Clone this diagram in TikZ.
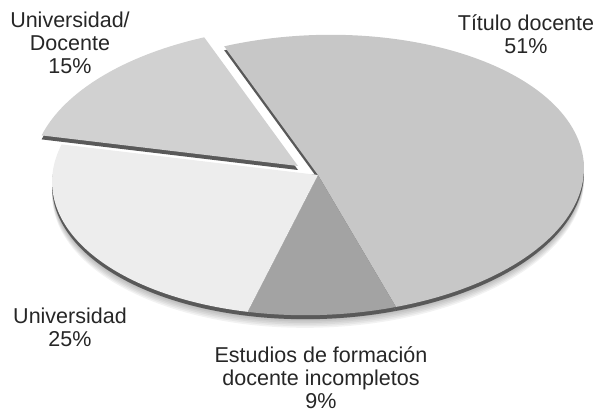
\documentclass[tikz,border=0pt]{standalone}
\usepackage{fontspec}
\setmainfont{Liberation Sans}
\begin{document}
\begin{tikzpicture}[x=1pt, y=1pt,
    pie/.style={shift={(318,237)}, rotate=2, xscale=266, yscale=140},
    lbl/.style={font=\fontsize{21.5}{23}\selectfont, align=center, text=black!85},
    rim/.style={fill=black!65},
  ]
    \useasboundingbox (0,0) rectangle (599,412);

    % soft shadow under the pie
    \begin{scope}
      \clip (0,0) rectangle (599,237);
      \foreach \k in {1,...,6}
        \fill[black, opacity=0.05, yshift=-3-\k*1.6] [pie] (0,0) circle (1);
    \end{scope}

    % thickness of the pie
    \begin{scope}[yshift=-4, pie]
      \fill[rim] (0,0) -- (286:1) arc (286:469.6:1) -- cycle;
      \fill[rim] (0,0) -- (253.6:1) arc (253.6:286:1) -- cycle;
      \fill[rim] (0,0) -- (163.6:1) arc (163.6:253.6:1) -- cycle;
    \end{scope}
    \begin{scope}[shift={(-20,9)}, yshift=-4, pie]
      \fill[rim] (0,0) -- (109.6:1) arc (109.6:163.6:1) -- cycle;
    \end{scope}

    % top of the slices
    \begin{scope}[pie]
      \fill[black!22] (0,0) -- (286:1) arc (286:469.6:1) -- cycle;
      \fill[black!36] (0,0) -- (253.6:1) arc (253.6:286:1) -- cycle;
      \fill[black!7] (0,0) -- (163.6:1) arc (163.6:253.6:1) -- cycle;
    \end{scope}
    \begin{scope}[shift={(-20,9)}, pie]
      \fill[black!18] (0,0) -- (109.6:1) arc (109.6:163.6:1) -- cycle;
    \end{scope}

    % labels
    \node[lbl] (univdoc) at (70,369) {Universidad/\\Docente\\15\%};
    \node[lbl] (titulo) at (526,378) {Título docente\\51\%};
    \node[lbl] (univ) at (70,85) {Universidad\\25\%};
    \node[lbl] (estudios) at (321,34) {Estudios de formación\\docente incompletos\\9\%};
  \end{tikzpicture}
\end{document}
